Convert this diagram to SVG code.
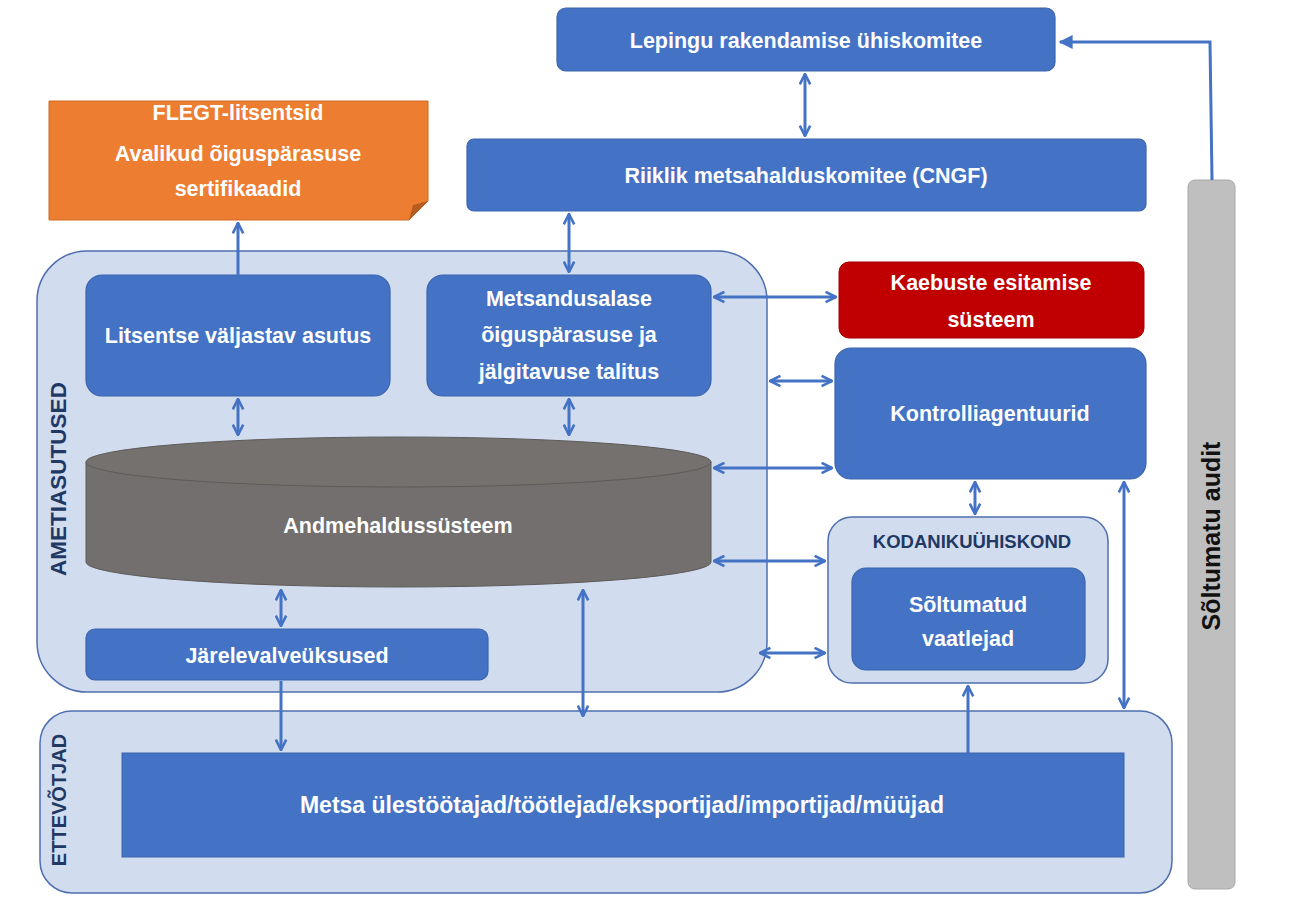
<svg xmlns="http://www.w3.org/2000/svg" width="1292" height="900" viewBox="0 0 1292 900">
<defs>
<style>
.n{fill:#4472C4;stroke:#3B64AE;stroke-width:1.2}
.c{fill:#D1DCEF;stroke:#4F6FAE;stroke-width:1.5}
.t{font-family:"Liberation Sans",Arial,sans-serif;font-weight:bold;font-size:21.5px;fill:#fff;text-anchor:middle}
.h{font-family:"Liberation Sans",Arial,sans-serif;font-weight:bold;fill:#1F3864;text-anchor:middle}
.l{stroke:#4472C4;stroke-width:3;fill:none}
.d{marker-start:url(#a);marker-end:url(#a)}
.e{marker-end:url(#a)}
</style>
<marker id="a" viewBox="0 0 10 10" refX="9" refY="5" markerWidth="13" markerHeight="13" markerUnits="userSpaceOnUse" orient="auto-start-reverse">
<path d="M1,1 L9,5 L1,9" fill="none" stroke="#4472C4" stroke-width="2"/>
</marker>
<marker id="f" viewBox="0 0 10 10" refX="9" refY="5" markerWidth="14" markerHeight="14" markerUnits="userSpaceOnUse" orient="auto">
<path d="M0,0 L10,5 L0,10 z" fill="#4472C4"/>
</marker>
</defs>
<rect width="1292" height="900" fill="#fff"/>

<g id="ametiasutused">
<rect class="c" x="37" y="251" width="730" height="441" rx="50"/>
<text class="h" font-size="22.5" transform="translate(66,479) rotate(-90)">AMETIASUTUSED</text>
</g>
<g id="ettevotjad">
<rect class="c" x="40" y="711" width="1132" height="182" rx="32"/>
<text class="h" font-size="20" transform="translate(66,800) rotate(-90)">ETTEVÕTJAD</text>
</g>
<g id="kodanikuyhiskond">
<rect class="c" x="828" y="517" width="280" height="166" rx="24"/>
<text class="h" font-size="18.5" x="972" y="548">KODANIKUÜHISKOND</text>
</g>

<g id="lepingu">
<rect class="n" x="557" y="8" width="498" height="63" rx="9"/>
<text class="t" x="806" y="48">Lepingu rakendamise ühiskomitee</text>
</g>
<g id="riiklik">
<rect class="n" x="467" y="139" width="679" height="72" rx="7"/>
<text class="t" x="806" y="183">Riiklik metsahalduskomitee (CNGF)</text>
</g>
<g id="flegt">
<path d="M49,101 H428 V201 L409,220 H49 Z" fill="#ED7D31" stroke="#D06A25" stroke-width="1"/>
<path d="M428,201 L409,220 L413,205 Z" fill="#B75C20"/>
<text class="t" x="238" y="120">FLEGT-litsentsid</text>
<text class="t" x="238" y="161">Avalikud õiguspärasuse</text>
<text class="t" x="238" y="196">sertifikaadid</text>
</g>
<g id="litsentse">
<rect class="n" x="86" y="275" width="304" height="121" rx="16"/>
<text class="t" x="238" y="343">Litsentse väljastav asutus</text>
</g>
<g id="metsandusalase">
<rect class="n" x="427" y="275" width="284" height="121" rx="16"/>
<text class="t" x="569" y="306">Metsandusalase</text>
<text class="t" x="569" y="342">õiguspärasuse ja</text>
<text class="t" x="569" y="379">jälgitavuse talitus</text>
</g>
<g id="andmehaldus">
<path d="M86,462 V562 A312.5,25 0 0 0 711,562 V462" fill="#736F6E" stroke="#5E5A59" stroke-width="1"/>
<ellipse cx="398.5" cy="462" rx="312.5" ry="25" fill="#75716F" stroke="#5E5A59" stroke-width="1"/>
<text class="t" x="398" y="533">Andmehaldussüsteem</text>
</g>
<g id="jarelevalve">
<rect class="n" x="86" y="629" width="402" height="51" rx="9"/>
<text class="t" x="287" y="663">Järelevalveüksused</text>
</g>
<g id="kaebuste">
<rect x="839" y="262" width="305" height="76" rx="10" fill="#C00000" stroke="#A00000" stroke-width="1"/>
<text class="t" x="991" y="290">Kaebuste esitamise</text>
<text class="t" x="991" y="327">süsteem</text>
</g>
<g id="kontrolli">
<rect class="n" x="835" y="348" width="311" height="131" rx="16"/>
<text class="t" x="990" y="421">Kontrolliagentuurid</text>
</g>
<g id="vaatlejad">
<rect class="n" x="852" y="568" width="233" height="102" rx="14"/>
<text class="t" x="968" y="612">Sõltumatud</text>
<text class="t" x="968" y="646">vaatlejad</text>
</g>
<g id="metsa">
<rect x="122" y="753" width="1002" height="104" fill="#4472C4" stroke="#3B64AE" stroke-width="1"/>
<text class="t" x="622" y="813" style="font-size:23px">Metsa ülestöötajad/töötlejad/eksportijad/importijad/müüjad</text>
</g>
<g id="audit">
<rect x="1188" y="180" width="47" height="709" rx="7" fill="#BFBFBF" stroke="#A8A8A8" stroke-width="1"/>
<text transform="translate(1220,536) rotate(-90)" font-family="'Liberation Sans',Arial,sans-serif" font-weight="bold" font-size="25" fill="#111" text-anchor="middle">Sõltumatu audit</text>
</g>

<g id="connectors">
<line class="l e" x1="238" y1="275" x2="238" y2="223"/>
<line class="l d" x1="805" y1="74" x2="805" y2="136"/>
<line class="l d" x1="569" y1="214" x2="569" y2="272"/>
<line class="l d" x1="714" y1="297" x2="836" y2="297"/>
<line class="l d" x1="770" y1="381" x2="832" y2="381"/>
<line class="l d" x1="238" y1="399" x2="238" y2="435"/>
<line class="l d" x1="569" y1="399" x2="569" y2="435"/>
<line class="l d" x1="714" y1="468" x2="832" y2="468"/>
<line class="l d" x1="714" y1="561" x2="825" y2="561"/>
<line class="l d" x1="760" y1="653" x2="825" y2="653"/>
<line class="l d" x1="975" y1="482" x2="975" y2="514"/>
<line class="l d" x1="281" y1="590" x2="281" y2="626"/>
<line class="l e" x1="281" y1="681" x2="281" y2="750"/>
<line class="l d" x1="583" y1="590" x2="583" y2="716"/>
<line class="l e" x1="968" y1="753" x2="968" y2="686"/>
<line class="l d" x1="1124" y1="482" x2="1124" y2="708"/>
<path class="l" d="M1212,180 L1210,42 H1060" marker-end="url(#f)"/>
</g>
</svg>
